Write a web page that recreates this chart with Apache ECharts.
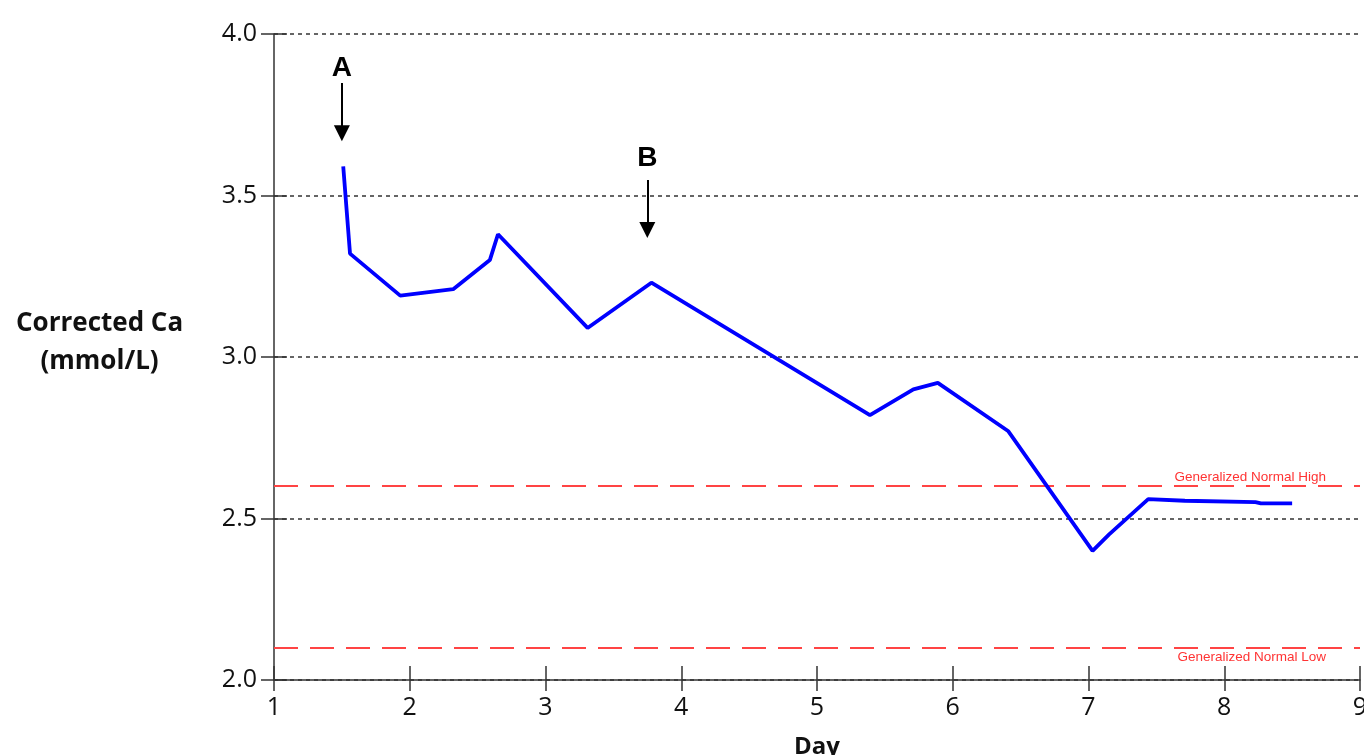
<!DOCTYPE html>
<html><head><meta charset="utf-8">
<script src="https://cdn.jsdelivr.net/npm/echarts@6/dist/echarts.min.js"></script>
<style>html,body{margin:0;padding:0;background:#fff;overflow:hidden}#c{width:1364px;height:755px}</style>
</head><body><div id="c"></div>
<script>
// Data (Day, Corrected Ca mmol/L)
const days = [1.51, 1.56, 1.93, 2.32, 2.59, 2.65, 3.31, 3.78, 5.39, 5.71, 5.89, 6.41, 7.03, 7.15, 7.44, 7.71, 8.23, 8.27, 8.50];
const calcium = [3.59, 3.32, 3.19, 3.21, 3.30, 3.38, 3.09, 3.23, 2.82, 2.90, 2.92, 2.77, 2.40, 2.45, 2.56, 2.555, 2.551, 2.547, 2.547];
const normalHigh = 2.6;
const normalLow = 2.1;
const refLabels = ['Generalized Normal High', 'Generalized Normal Low'];
const annLabels = ['A', 'B'];
const annX = [1.5, 3.75];
const annTop = [3.848, 3.548];
const annTip = [3.693, 3.393];
const annText = [3.895, 3.615];

const el = document.getElementById('c');
const chart = echarts.init(el, null, {width: 1364, height: 755});
const tickFont = {fontFamily: 'Open Sans', fontSize: 25, color: '#111'};
const xBase = {type: 'value', min: 1, max: 9, interval: 1};
const yBase = {type: 'value', min: 2, max: 4, interval: 0.5};

const arrowLines = annLabels.map((l, i) => [
  {coord: [annX[i], annTop[i]]},
  {coord: [annX[i], annTip[i]]}
]);
const annPoints = annLabels.map((l, i) => ({coord: [annX[i], annText[i]], value: l}));

chart.setOption({
  animation: false,
  grid: {left: 274, right: 4, top: 34, bottom: 75, containLabel: false, outerBoundsMode: 'none'},
  xAxis: [
    Object.assign({}, xBase, {
      position: 'bottom',
      name: 'Day', nameLocation: 'middle', nameGap: 55,
      nameTextStyle: {fontFamily: 'Open Sans', fontWeight: 'bold', fontSize: 24, color: '#111'},
      axisLine: {lineStyle: {color: '#333', width: 1.5}},
      axisTick: {inside: false, length: 11, lineStyle: {color: '#333', width: 1.5}},
      axisLabel: Object.assign({margin: 15}, tickFont),
      splitLine: {show: false}
    }),
    Object.assign({}, xBase, {
      position: 'bottom',
      axisLine: {show: false},
      axisTick: {inside: true, length: 14, lineStyle: {color: '#333', width: 1.5}},
      axisLabel: {show: false}, splitLine: {show: false}
    })
  ],
  yAxis: [
    Object.assign({}, yBase, {
      axisLine: {show: true, lineStyle: {color: '#333', width: 1.5}},
      axisTick: {show: true, inside: false, length: 13, lineStyle: {color: '#333', width: 1.5}},
      axisLabel: Object.assign({margin: 17, formatter: (v) => v.toFixed(1)}, tickFont),
      splitLine: {show: true, lineStyle: {color: '#333', type: [4, 4], width: 1.5}}
    }),
    Object.assign({}, yBase, {
      position: 'left',
      axisLine: {show: false},
      axisTick: {show: true, inside: true, length: 13, lineStyle: {color: '#333', width: 1.5}},
      axisLabel: {show: false}, splitLine: {show: false}
    })
  ],
  graphic: [{
    type: 'text', left: 16, top: 305,
    style: {
      text: 'Corrected Ca\n(mmol/L)', textAlign: 'center',
      font: 'bold 26px "Open Sans"', fill: '#111', lineHeight: 38
    }
  }],
  series: [{
    type: 'line',
    data: days.map((d, i) => [d, calcium[i]]),
    showSymbol: false, symbol: 'none',
    lineStyle: {color: '#0000ff', width: 3.8},
    z: 5,
    markLine: {
      silent: true, animation: false,
      symbol: ['none', 'none'],
      data: [
        {yAxis: normalHigh, name: refLabels[0],
          label: {show: true, position: 'insideEndTop', formatter: refLabels[0], color: '#ff3333', fontSize: 13.5, fontFamily: 'Liberation Sans', distance: [34, 2]},
          lineStyle: {color: '#ff4444', type: [24, 12], width: 2}},
        {yAxis: normalLow, name: refLabels[1],
          label: {show: true, position: 'insideEndBottom', formatter: refLabels[1], color: '#ff3333', fontSize: 13.5, fontFamily: 'Liberation Sans', distance: [34, 3]},
          lineStyle: {color: '#ff4444', type: [24, 12], width: 2}}
      ]
    }
  }, {
    type: 'line', data: [], symbol: 'none',
    markLine: {
      silent: true, animation: false,
      symbol: ['none', 'triangle'], symbolSize: [16, 16],
      lineStyle: {color: '#000', type: 'solid', width: 2},
      label: {show: false},
      data: arrowLines
    },
    markPoint: {
      silent: true, symbol: 'circle', symbolSize: 1,
      itemStyle: {color: 'rgba(0,0,0,0)'},
      label: {show: true, position: 'inside', formatter: (p) => p.value, fontFamily: 'Liberation Sans', fontWeight: 'bold', fontSize: 28, color: '#000'},
      data: annPoints
    }
  }]
});
</script></body></html>
